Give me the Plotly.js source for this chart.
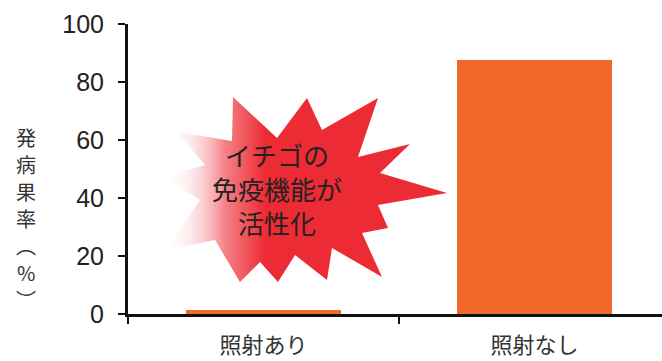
<!DOCTYPE html>
<html><head><meta charset="utf-8">
<script src="https://cdn.plot.ly/plotly-3.0.1.min.js"></script>
<style>html,body{margin:0;padding:0;background:#fff}#chart{width:662px;height:361px}</style>
</head><body><div id="chart"></div>
<script>
// Data
const categories = ['照射あり', '照射なし'];
const values = [1.5, 87.5];
const yTicks = [0, 20, 40, 60, 80, 100];
const yTitleChars = ['発', '病', '果', '率', '︵', '%', '︶'];
const burstText = ['イチゴの', '免疫機能が', '活性化'];
// Decorative starburst outline (pixel frame of the figure)
const burstX = [177,232,233,277,307,322,378,358,410,380,447,378,388,362,382,332,327,295,278,260,240,215,165,200,163,205,177];
const burstY = [132,141,97,138,98,130,98,157,144,173,193,205,228,233,277,248,280,255,282,262,282,240,250,200,177,165,132];

const W = 662, H = 361;
const M = {l:128, r:0, t:24, b:47};
const PW = W - M.l - M.r, PH = H - M.t - M.b;

const traces = [
  {type:'bar', x:categories, y:values, width:0.57,
   marker:{color:'#F0692B', line:{width:0}}, hoverinfo:'skip'},
  {type:'scatter', x:burstX, y:burstY, xaxis:'x2', yaxis:'y2', mode:'lines',
   line:{width:0, color:'rgba(0,0,0,0)'}, fill:'toself',
   fillgradient:{type:'horizontal',
     colorscale:[[0,'rgba(255,255,255,0)'],[0.1,'rgba(245,140,150,0.2)'],[0.22,'rgba(237,43,52,0.6)'],[0.36,'#ED2B34'],[1,'#ED2B34']]},
   hoverinfo:'skip'}
];

const annotations = [
  {xref:'paper', yref:'paper', x:(277-M.l)/PW, y:1-(188-M.t)/PH,
   xanchor:'center', yanchor:'middle',
   text:burstText.join('<br>'), showarrow:false, align:'center',
   font:{family:'Noto Sans CJK JP', size:26, color:'#222'}}
];
yTitleChars.forEach((ch, i) => {
  annotations.push({xref:'paper', yref:'paper', x:(26-M.l)/PW, y:1-(137 + i*27 - M.t)/PH,
    xanchor:'center', yanchor:'middle', text:ch, showarrow:false, borderpad:0,
    font:{family:'Noto Sans CJK JP', size:20, color:'#333'}});
});

const layout = {
  width:W, height:H, margin:M, showlegend:false,
  paper_bgcolor:'#fff', plot_bgcolor:'#fff',
  bargap:0,
  xaxis:{type:'category', range:[-0.5,1.47], showline:true, linecolor:'#111', linewidth:3,
    ticks:'outside', tickson:'boundaries', ticklen:7, tickwidth:2, tickcolor:'#111',
    showgrid:false, zeroline:false, ticklabelstandoff:10,
    tickfont:{family:'Noto Sans CJK JP', size:22, color:'#333'}},
  yaxis:{range:[0,100], tickvals:yTicks, showline:true, linecolor:'#111', linewidth:3,
    ticks:'outside', ticklen:7, tickwidth:2, tickcolor:'#111',
    showgrid:false, zeroline:false, ticklabelstandoff:9,
    tickfont:{family:'Liberation Sans Narrow, Liberation Sans, Arial, sans-serif', size:25, color:'#222'}},
  xaxis2:{overlaying:'x', range:[M.l, W-M.r], visible:false, fixedrange:true},
  yaxis2:{overlaying:'y', range:[H-M.b, M.t], visible:false, fixedrange:true},
  annotations:annotations
};
Plotly.newPlot('chart', traces, layout, {displayModeBar:false, staticPlot:true});
</script></body></html>
